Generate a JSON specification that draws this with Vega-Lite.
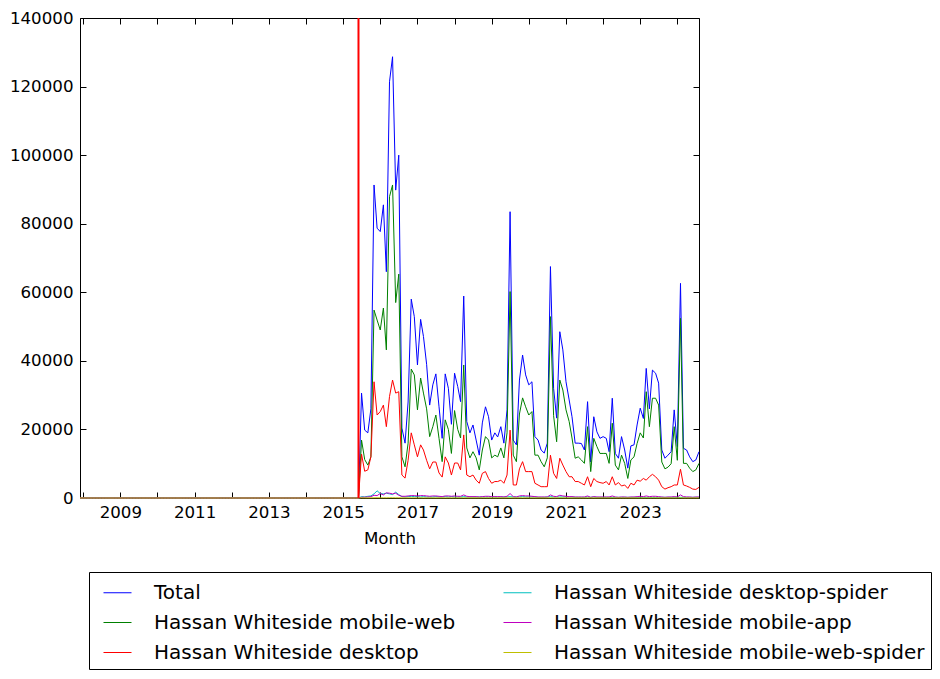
{
"$schema": "https://vega.github.io/schema/vega-lite/v6.json",
"width": 619, "height": 480,
"autosize": "none",
"padding": {"left": 80, "top": 18, "right": 241, "bottom": 181},
"background": "white",
"config": {
  "font": "DejaVu Sans",
  "view": {"stroke": "black", "strokeWidth": 1},
  "axis": {"labelFont": "DejaVu Sans", "labelFontSize": 16.67, "labelColor": "black", "titleFont": "DejaVu Sans", "titleFontSize": 16.67, "titleFontWeight": "normal", "titleColor": "black", "domain": false, "grid": false, "tickColor": "black", "tickSize": -6, "labelOverlap": false, "labelFlush": false}
},
"datasets": {
"pv": [
{"m":"2007-12-01","t":0,"w":0,"d":0,"s":0,"a":0,"y":0},
{"m":"2008-01-01","t":0,"w":0,"d":0,"s":0,"a":0,"y":0},
{"m":"2008-02-01","t":0,"w":0,"d":0,"s":0,"a":0,"y":0},
{"m":"2008-03-01","t":0,"w":0,"d":0,"s":0,"a":0,"y":0},
{"m":"2008-04-01","t":0,"w":0,"d":0,"s":0,"a":0,"y":0},
{"m":"2008-05-01","t":0,"w":0,"d":0,"s":0,"a":0,"y":0},
{"m":"2008-06-01","t":0,"w":0,"d":0,"s":0,"a":0,"y":0},
{"m":"2008-07-01","t":0,"w":0,"d":0,"s":0,"a":0,"y":0},
{"m":"2008-08-01","t":0,"w":0,"d":0,"s":0,"a":0,"y":0},
{"m":"2008-09-01","t":0,"w":0,"d":0,"s":0,"a":0,"y":0},
{"m":"2008-10-01","t":0,"w":0,"d":0,"s":0,"a":0,"y":0},
{"m":"2008-11-01","t":0,"w":0,"d":0,"s":0,"a":0,"y":0},
{"m":"2008-12-01","t":0,"w":0,"d":0,"s":0,"a":0,"y":0},
{"m":"2009-01-01","t":0,"w":0,"d":0,"s":0,"a":0,"y":0},
{"m":"2009-02-01","t":0,"w":0,"d":0,"s":0,"a":0,"y":0},
{"m":"2009-03-01","t":0,"w":0,"d":0,"s":0,"a":0,"y":0},
{"m":"2009-04-01","t":0,"w":0,"d":0,"s":0,"a":0,"y":0},
{"m":"2009-05-01","t":0,"w":0,"d":0,"s":0,"a":0,"y":0},
{"m":"2009-06-01","t":0,"w":0,"d":0,"s":0,"a":0,"y":0},
{"m":"2009-07-01","t":0,"w":0,"d":0,"s":0,"a":0,"y":0},
{"m":"2009-08-01","t":0,"w":0,"d":0,"s":0,"a":0,"y":0},
{"m":"2009-09-01","t":0,"w":0,"d":0,"s":0,"a":0,"y":0},
{"m":"2009-10-01","t":0,"w":0,"d":0,"s":0,"a":0,"y":0},
{"m":"2009-11-01","t":0,"w":0,"d":0,"s":0,"a":0,"y":0},
{"m":"2009-12-01","t":0,"w":0,"d":0,"s":0,"a":0,"y":0},
{"m":"2010-01-01","t":0,"w":0,"d":0,"s":0,"a":0,"y":0},
{"m":"2010-02-01","t":0,"w":0,"d":0,"s":0,"a":0,"y":0},
{"m":"2010-03-01","t":0,"w":0,"d":0,"s":0,"a":0,"y":0},
{"m":"2010-04-01","t":0,"w":0,"d":0,"s":0,"a":0,"y":0},
{"m":"2010-05-01","t":0,"w":0,"d":0,"s":0,"a":0,"y":0},
{"m":"2010-06-01","t":0,"w":0,"d":0,"s":0,"a":0,"y":0},
{"m":"2010-07-01","t":0,"w":0,"d":0,"s":0,"a":0,"y":0},
{"m":"2010-08-01","t":0,"w":0,"d":0,"s":0,"a":0,"y":0},
{"m":"2010-09-01","t":0,"w":0,"d":0,"s":0,"a":0,"y":0},
{"m":"2010-10-01","t":0,"w":0,"d":0,"s":0,"a":0,"y":0},
{"m":"2010-11-01","t":0,"w":0,"d":0,"s":0,"a":0,"y":0},
{"m":"2010-12-01","t":0,"w":0,"d":0,"s":0,"a":0,"y":0},
{"m":"2011-01-01","t":0,"w":0,"d":0,"s":0,"a":0,"y":0},
{"m":"2011-02-01","t":0,"w":0,"d":0,"s":0,"a":0,"y":0},
{"m":"2011-03-01","t":0,"w":0,"d":0,"s":0,"a":0,"y":0},
{"m":"2011-04-01","t":0,"w":0,"d":0,"s":0,"a":0,"y":0},
{"m":"2011-05-01","t":0,"w":0,"d":0,"s":0,"a":0,"y":0},
{"m":"2011-06-01","t":0,"w":0,"d":0,"s":0,"a":0,"y":0},
{"m":"2011-07-01","t":0,"w":0,"d":0,"s":0,"a":0,"y":0},
{"m":"2011-08-01","t":0,"w":0,"d":0,"s":0,"a":0,"y":0},
{"m":"2011-09-01","t":0,"w":0,"d":0,"s":0,"a":0,"y":0},
{"m":"2011-10-01","t":0,"w":0,"d":0,"s":0,"a":0,"y":0},
{"m":"2011-11-01","t":0,"w":0,"d":0,"s":0,"a":0,"y":0},
{"m":"2011-12-01","t":0,"w":0,"d":0,"s":0,"a":0,"y":0},
{"m":"2012-01-01","t":0,"w":0,"d":0,"s":0,"a":0,"y":0},
{"m":"2012-02-01","t":0,"w":0,"d":0,"s":0,"a":0,"y":0},
{"m":"2012-03-01","t":0,"w":0,"d":0,"s":0,"a":0,"y":0},
{"m":"2012-04-01","t":0,"w":0,"d":0,"s":0,"a":0,"y":0},
{"m":"2012-05-01","t":0,"w":0,"d":0,"s":0,"a":0,"y":0},
{"m":"2012-06-01","t":0,"w":0,"d":0,"s":0,"a":0,"y":0},
{"m":"2012-07-01","t":0,"w":0,"d":0,"s":0,"a":0,"y":0},
{"m":"2012-08-01","t":0,"w":0,"d":0,"s":0,"a":0,"y":0},
{"m":"2012-09-01","t":0,"w":0,"d":0,"s":0,"a":0,"y":0},
{"m":"2012-10-01","t":0,"w":0,"d":0,"s":0,"a":0,"y":0},
{"m":"2012-11-01","t":0,"w":0,"d":0,"s":0,"a":0,"y":0},
{"m":"2012-12-01","t":0,"w":0,"d":0,"s":0,"a":0,"y":0},
{"m":"2013-01-01","t":0,"w":0,"d":0,"s":0,"a":0,"y":0},
{"m":"2013-02-01","t":0,"w":0,"d":0,"s":0,"a":0,"y":0},
{"m":"2013-03-01","t":0,"w":0,"d":0,"s":0,"a":0,"y":0},
{"m":"2013-04-01","t":0,"w":0,"d":0,"s":0,"a":0,"y":0},
{"m":"2013-05-01","t":0,"w":0,"d":0,"s":0,"a":0,"y":0},
{"m":"2013-06-01","t":0,"w":0,"d":0,"s":0,"a":0,"y":0},
{"m":"2013-07-01","t":0,"w":0,"d":0,"s":0,"a":0,"y":0},
{"m":"2013-08-01","t":0,"w":0,"d":0,"s":0,"a":0,"y":0},
{"m":"2013-09-01","t":0,"w":0,"d":0,"s":0,"a":0,"y":0},
{"m":"2013-10-01","t":0,"w":0,"d":0,"s":0,"a":0,"y":0},
{"m":"2013-11-01","t":0,"w":0,"d":0,"s":0,"a":0,"y":0},
{"m":"2013-12-01","t":0,"w":0,"d":0,"s":0,"a":0,"y":0},
{"m":"2014-01-01","t":0,"w":0,"d":0,"s":0,"a":0,"y":0},
{"m":"2014-02-01","t":0,"w":0,"d":0,"s":0,"a":0,"y":0},
{"m":"2014-03-01","t":0,"w":0,"d":0,"s":0,"a":0,"y":0},
{"m":"2014-04-01","t":0,"w":0,"d":0,"s":0,"a":0,"y":0},
{"m":"2014-05-01","t":0,"w":0,"d":0,"s":0,"a":0,"y":0},
{"m":"2014-06-01","t":0,"w":0,"d":0,"s":0,"a":0,"y":0},
{"m":"2014-07-01","t":0,"w":0,"d":0,"s":0,"a":0,"y":0},
{"m":"2014-08-01","t":0,"w":0,"d":0,"s":0,"a":0,"y":0},
{"m":"2014-09-01","t":0,"w":0,"d":0,"s":0,"a":0,"y":0},
{"m":"2014-10-01","t":0,"w":0,"d":0,"s":0,"a":0,"y":0},
{"m":"2014-11-01","t":0,"w":0,"d":0,"s":0,"a":0,"y":0},
{"m":"2014-12-01","t":0,"w":0,"d":0,"s":0,"a":0,"y":0},
{"m":"2015-01-01","t":0,"w":0,"d":0,"s":0,"a":0,"y":0},
{"m":"2015-02-01","t":0,"w":0,"d":0,"s":0,"a":0,"y":0},
{"m":"2015-03-01","t":0,"w":0,"d":0,"s":0,"a":0,"y":0},
{"m":"2015-04-01","t":0,"w":0,"d":0,"s":0,"a":0,"y":0},
{"m":"2015-05-01","t":0,"w":0,"d":0,"s":0,"a":0,"y":0},
{"m":"2015-06-01","t":0,"w":0,"d":0,"s":0,"a":0,"y":0},
{"m":"2015-07-01","t":30600,"w":16900,"d":12800,"s":400,"a":200,"y":40},
{"m":"2015-08-01","t":19800,"w":11200,"d":7800,"s":300,"a":250,"y":30},
{"m":"2015-09-01","t":19000,"w":9600,"d":8200,"s":500,"a":300,"y":30},
{"m":"2015-10-01","t":26000,"w":12000,"d":12000,"s":600,"a":400,"y":40},
{"m":"2015-11-01","t":91300,"w":54800,"d":33900,"s":1200,"a":800,"y":50},
{"m":"2015-12-01","t":78700,"w":51900,"d":24200,"s":2100,"a":700,"y":60},
{"m":"2016-01-01","t":77700,"w":49000,"d":25200,"s":1300,"a":1300,"y":50},
{"m":"2016-02-01","t":85500,"w":55400,"d":27100,"s":1200,"a":900,"y":50},
{"m":"2016-03-01","t":66000,"w":43200,"d":20800,"s":1400,"a":1500,"y":40},
{"m":"2016-04-01","t":121400,"w":87900,"d":29600,"s":1200,"a":1400,"y":60},
{"m":"2016-05-01","t":128700,"w":91300,"d":34400,"s":1000,"a":1200,"y":60},
{"m":"2016-06-01","t":89800,"w":57000,"d":30600,"s":1700,"a":1400,"y":50},
{"m":"2016-07-01","t":100000,"w":65300,"d":31000,"s":1000,"a":800,"y":50},
{"m":"2016-08-01","t":20400,"w":12000,"d":6700,"s":400,"a":500,"y":30},
{"m":"2016-09-01","t":16000,"w":9100,"d":5800,"s":300,"a":500,"y":30},
{"m":"2016-10-01","t":28000,"w":16000,"d":11000,"s":400,"a":600,"y":30},
{"m":"2016-11-01","t":58000,"w":37600,"d":19000,"s":500,"a":700,"y":40},
{"m":"2016-12-01","t":52900,"w":35900,"d":15500,"s":400,"a":700,"y":40},
{"m":"2017-01-01","t":38800,"w":25700,"d":12000,"s":400,"a":600,"y":30},
{"m":"2017-02-01","t":52100,"w":35000,"d":15500,"s":300,"a":700,"y":30},
{"m":"2017-03-01","t":47100,"w":30600,"d":14000,"s":400,"a":700,"y":30},
{"m":"2017-04-01","t":39000,"w":26000,"d":11000,"s":300,"a":600,"y":30},
{"m":"2017-05-01","t":27100,"w":17900,"d":8500,"s":300,"a":500,"y":30},
{"m":"2017-06-01","t":33000,"w":20800,"d":10500,"s":300,"a":600,"y":30},
{"m":"2017-07-01","t":36200,"w":24200,"d":10500,"s":400,"a":600,"y":30},
{"m":"2017-08-01","t":26600,"w":17400,"d":7300,"s":300,"a":500,"y":30},
{"m":"2017-09-01","t":17400,"w":10600,"d":6100,"s":300,"a":400,"y":30},
{"m":"2017-10-01","t":36200,"w":22800,"d":12000,"s":400,"a":600,"y":30},
{"m":"2017-11-01","t":32000,"w":20000,"d":10200,"s":300,"a":600,"y":30},
{"m":"2017-12-01","t":21500,"w":13000,"d":6700,"s":400,"a":500,"y":30},
{"m":"2018-01-01","t":36400,"w":25500,"d":10200,"s":300,"a":600,"y":30},
{"m":"2018-02-01","t":32500,"w":20000,"d":10200,"s":300,"a":500,"y":30},
{"m":"2018-03-01","t":28100,"w":17500,"d":8200,"s":300,"a":500,"y":30},
{"m":"2018-04-01","t":58900,"w":38800,"d":18400,"s":400,"a":900,"y":40},
{"m":"2018-05-01","t":22300,"w":14600,"d":6700,"s":300,"a":500,"y":30},
{"m":"2018-06-01","t":19000,"w":11700,"d":6200,"s":300,"a":400,"y":30},
{"m":"2018-07-01","t":21300,"w":13500,"d":6700,"s":300,"a":400,"y":30},
{"m":"2018-08-01","t":16900,"w":11700,"d":5200,"s":300,"a":400,"y":30},
{"m":"2018-09-01","t":12500,"w":8200,"d":4300,"s":300,"a":300,"y":20},
{"m":"2018-10-01","t":21900,"w":14000,"d":7200,"s":300,"a":400,"y":30},
{"m":"2018-11-01","t":26600,"w":17900,"d":7700,"s":300,"a":500,"y":30},
{"m":"2018-12-01","t":23700,"w":16900,"d":5700,"s":300,"a":500,"y":30},
{"m":"2019-01-01","t":16900,"w":11700,"d":4300,"s":300,"a":400,"y":30},
{"m":"2019-02-01","t":19000,"w":12500,"d":4800,"s":300,"a":400,"y":30},
{"m":"2019-03-01","t":17800,"w":12000,"d":4800,"s":300,"a":400,"y":30},
{"m":"2019-04-01","t":20800,"w":14600,"d":5200,"s":300,"a":400,"y":30},
{"m":"2019-05-01","t":16000,"w":11700,"d":4300,"s":300,"a":300,"y":20},
{"m":"2019-06-01","t":25700,"w":19000,"d":6700,"s":300,"a":500,"y":30},
{"m":"2019-07-01","t":83500,"w":60200,"d":19800,"s":400,"a":1300,"y":40},
{"m":"2019-08-01","t":16900,"w":12500,"d":3800,"s":300,"a":400,"y":20},
{"m":"2019-09-01","t":15500,"w":10600,"d":3800,"s":300,"a":300,"y":20},
{"m":"2019-10-01","t":34400,"w":24500,"d":8500,"s":300,"a":600,"y":30},
{"m":"2019-11-01","t":41700,"w":29200,"d":10600,"s":400,"a":700,"y":30},
{"m":"2019-12-01","t":35900,"w":26600,"d":7700,"s":300,"a":600,"y":30},
{"m":"2020-01-01","t":33000,"w":24200,"d":7700,"s":300,"a":600,"y":30},
{"m":"2020-02-01","t":33900,"w":25200,"d":7700,"s":300,"a":500,"y":30},
{"m":"2020-03-01","t":17900,"w":12500,"d":4300,"s":300,"a":400,"y":20},
{"m":"2020-04-01","t":16900,"w":12500,"d":3800,"s":200,"a":300,"y":20},
{"m":"2020-05-01","t":14000,"w":10600,"d":3300,"s":200,"a":300,"y":20},
{"m":"2020-06-01","t":13100,"w":9100,"d":3300,"s":200,"a":300,"y":20},
{"m":"2020-07-01","t":16000,"w":11700,"d":3300,"s":300,"a":300,"y":20},
{"m":"2020-08-01","t":67500,"w":52900,"d":12500,"s":400,"a":900,"y":40},
{"m":"2020-09-01","t":32000,"w":24000,"d":7200,"s":300,"a":500,"y":30},
{"m":"2020-10-01","t":23300,"w":16400,"d":5700,"s":300,"a":400,"y":20},
{"m":"2020-11-01","t":48500,"w":34400,"d":11600,"s":300,"a":800,"y":30},
{"m":"2020-12-01","t":43200,"w":31500,"d":9600,"s":300,"a":600,"y":30},
{"m":"2021-01-01","t":33900,"w":25700,"d":7700,"s":300,"a":500,"y":30},
{"m":"2021-02-01","t":28600,"w":22300,"d":6200,"s":300,"a":400,"y":20},
{"m":"2021-03-01","t":23700,"w":17500,"d":6200,"s":300,"a":400,"y":20},
{"m":"2021-04-01","t":16000,"w":11600,"d":4800,"s":200,"a":300,"y":20},
{"m":"2021-05-01","t":16000,"w":12000,"d":4800,"s":200,"a":300,"y":20},
{"m":"2021-06-01","t":15900,"w":11100,"d":4300,"s":200,"a":300,"y":20},
{"m":"2021-07-01","t":14000,"w":10100,"d":3800,"s":200,"a":300,"y":20},
{"m":"2021-08-01","t":28100,"w":20800,"d":6200,"s":300,"a":600,"y":30},
{"m":"2021-09-01","t":10500,"w":7700,"d":3300,"s":200,"a":200,"y":20},
{"m":"2021-10-01","t":23700,"w":17400,"d":5700,"s":300,"a":400,"y":20},
{"m":"2021-11-01","t":19300,"w":15000,"d":4800,"s":200,"a":300,"y":20},
{"m":"2021-12-01","t":17400,"w":13000,"d":4500,"s":200,"a":300,"y":20},
{"m":"2022-01-01","t":17900,"w":13000,"d":4300,"s":200,"a":300,"y":20},
{"m":"2022-02-01","t":17400,"w":13000,"d":4800,"s":200,"a":300,"y":20},
{"m":"2022-03-01","t":13500,"w":10100,"d":3800,"s":200,"a":300,"y":20},
{"m":"2022-04-01","t":29100,"w":21800,"d":6200,"s":200,"a":600,"y":30},
{"m":"2022-05-01","t":13000,"w":9600,"d":3800,"s":200,"a":300,"y":20},
{"m":"2022-06-01","t":11600,"w":8200,"d":4500,"s":200,"a":200,"y":20},
{"m":"2022-07-01","t":17900,"w":12500,"d":3500,"s":200,"a":300,"y":20},
{"m":"2022-08-01","t":14000,"w":10100,"d":3800,"s":200,"a":300,"y":20},
{"m":"2022-09-01","t":8700,"w":5700,"d":2800,"s":200,"a":200,"y":20},
{"m":"2022-10-01","t":15200,"w":11100,"d":4300,"s":200,"a":300,"y":20},
{"m":"2022-11-01","t":15500,"w":12000,"d":3800,"s":200,"a":300,"y":20},
{"m":"2022-12-01","t":21300,"w":15900,"d":5200,"s":200,"a":400,"y":20},
{"m":"2023-01-01","t":26200,"w":19000,"d":4900,"s":200,"a":500,"y":20},
{"m":"2023-02-01","t":23200,"w":17500,"d":5700,"s":200,"a":400,"y":20},
{"m":"2023-03-01","t":37800,"w":31000,"d":5200,"s":200,"a":600,"y":30},
{"m":"2023-04-01","t":26000,"w":20800,"d":6200,"s":200,"a":400,"y":20},
{"m":"2023-05-01","t":37300,"w":29100,"d":6900,"s":200,"a":500,"y":30},
{"m":"2023-06-01","t":36400,"w":29100,"d":6200,"s":200,"a":500,"y":30},
{"m":"2023-07-01","t":33500,"w":27100,"d":5200,"s":200,"a":400,"y":20},
{"m":"2023-08-01","t":14000,"w":10500,"d":3300,"s":200,"a":300,"y":20},
{"m":"2023-09-01","t":11600,"w":8500,"d":2600,"s":200,"a":200,"y":20},
{"m":"2023-10-01","t":12500,"w":9000,"d":3000,"s":200,"a":300,"y":20},
{"m":"2023-11-01","t":13500,"w":10000,"d":3300,"s":200,"a":300,"y":20},
{"m":"2023-12-01","t":25700,"w":20800,"d":3800,"s":200,"a":400,"y":20},
{"m":"2024-01-01","t":15000,"w":11000,"d":3800,"s":200,"a":300,"y":20},
{"m":"2024-02-01","t":62600,"w":52400,"d":8400,"s":200,"a":900,"y":40},
{"m":"2024-03-01","t":14500,"w":10100,"d":3800,"s":200,"a":400,"y":20},
{"m":"2024-04-01","t":14000,"w":10100,"d":3500,"s":200,"a":300,"y":20},
{"m":"2024-05-01","t":12000,"w":8700,"d":3100,"s":200,"a":300,"y":20},
{"m":"2024-06-01","t":10600,"w":7700,"d":2600,"s":200,"a":200,"y":20},
{"m":"2024-07-01","t":11100,"w":8200,"d":2500,"s":200,"a":300,"y":20},
{"m":"2024-08-01","t":13500,"w":10100,"d":3100,"s":200,"a":300,"y":20}
],
"marker": [{"date": "2015-06-01", "lo": 0, "hi": 140000}]
},
"layer": [
{
  "data": {"name": "pv"},
  "transform": [{"fold": ["t", "w", "d", "s", "a", "y"], "as": ["series", "views"]}],
  "mark": {"type": "line", "strokeWidth": 1},
  "encoding": {
    "x": {"field": "m", "type": "temporal", "title": "Month",
      "scale": {"type": "utc", "nice": false},
      "axis": {"orient": "bottom", "tickCount": {"interval": "year", "step": 1}, "labelExpr": "utcyear(datum.value) % 2 == 1 ? utcFormat(datum.value, '%Y') : ''", "labelPadding": 12, "titlePadding": 10}},
    "y": {"field": "views", "type": "quantitative", "title": null,
      "scale": {"domain": [0, 140000], "nice": false, "zero": true},
      "axis": {"orient": "left", "values": [0, 20000, 40000, 60000, 80000, 100000, 120000, 140000], "format": "d", "labelPadding": 13}},
    "color": {"field": "series", "type": "nominal",
      "scale": {"domain": ["t", "w", "d", "s", "a", "y"], "range": ["#0000ff", "#008000", "#ff0000", "#00bfbf", "#bf00bf", "#bfbf00"]},
      "legend": {"orient": "none", "legendX": 9, "legendY": 554, "columns": 2, "direction": "vertical", "title": null,
        "symbolType": "stroke", "symbolSize": 784, "symbolStrokeWidth": 1, "symbolOffset": 8,
        "labelFont": "DejaVu Sans", "labelFontSize": 20, "labelColor": "black", "labelOffset": 22, "labelLimit": 0,
        "columnPadding": 39, "rowPadding": 5, "padding": 6, "strokeColor": "black", "fillColor": "white", "cornerRadius": 0,
        "labelExpr": "datum.label == 't' ? 'Total' : datum.label == 'w' ? 'Hassan Whiteside mobile-web' : datum.label == 'd' ? 'Hassan Whiteside desktop' : datum.label == 's' ? 'Hassan Whiteside desktop-spider' : datum.label == 'a' ? 'Hassan Whiteside mobile-app' : 'Hassan Whiteside mobile-web-spider'"}}
  }
},
{
  "data": {"name": "marker"},
  "mark": {"type": "rule", "color": "#ff0000", "strokeWidth": 2},
  "encoding": {
    "x": {"field": "date", "type": "temporal", "title": null, "scale": {"type": "utc", "nice": false},
      "axis": {"orient": "top", "labels": false, "tickCount": {"interval": "year", "step": 1}}},
    "y": {"field": "lo", "type": "quantitative", "title": null,
      "axis": {"orient": "right", "labels": false, "values": [0, 20000, 40000, 60000, 80000, 100000, 120000, 140000]}},
    "y2": {"field": "hi"}
  }
}
],
"resolve": {"axis": {"x": "independent", "y": "independent"}}
}
